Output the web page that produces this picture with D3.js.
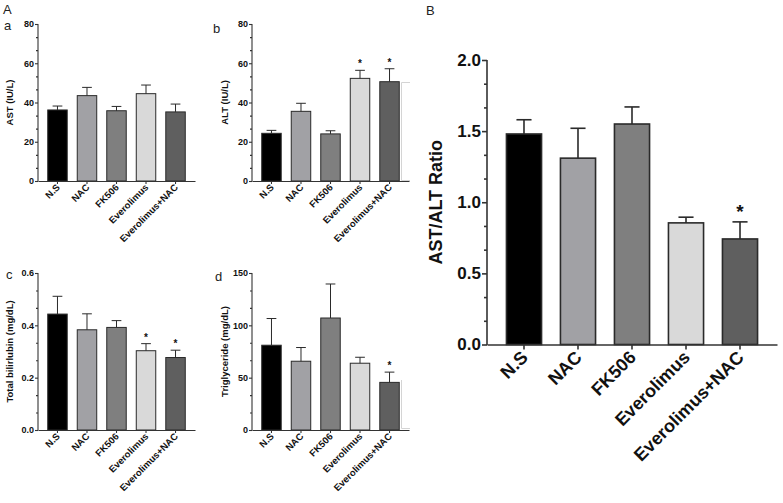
<!DOCTYPE html>
<html>
<head>
<meta charset="utf-8">
<script src="https://cdn.jsdelivr.net/npm/d3@7"></script>
<style>
  html, body { margin: 0; padding: 0; background: #fff; }
  svg { display: block; font-family: "Liberation Sans", Arial, Helvetica, sans-serif; }
</style>
</head>
<body>
<svg id="chart" width="783" height="503"></svg>
<script>
// ---------- data ----------
const categories = ["N.S", "NAC", "FK506", "Everolimus", "Everolimus+NAC"];
const barColors = ["#000000", "#a1a1a5", "#7f7f7f", "#d9d9d9", "#5f5f5f"];

const astMean = [36.2, 43.5, 35.8, 44.5, 35.2];
const astSem  = [2.0, 4.2, 2.2, 4.4, 4.0];
const astSig  = [0, 0, 0, 0, 0];
const astTicks = [0, 20, 40, 60, 80];

const altMean = [24.3, 35.5, 24.0, 52.3, 50.6];
const altSem  = [1.5, 4.1, 1.6, 4.1, 6.6];
const altSig  = [0, 0, 0, 1, 1];
const altTicks = [0, 20, 40, 60, 80];

const bilMean = [0.443, 0.383, 0.392, 0.303, 0.277];
const bilSem  = [0.068, 0.061, 0.026, 0.027, 0.028];
const bilSig  = [0, 0, 0, 1, 1];
const bilTicks = [0.0, 0.2, 0.4, 0.6];

const triMean = [81, 65.7, 107, 63.8, 45.5];
const triSem  = [25.5, 13.1, 32.5, 5.7, 9.8];
const triSig  = [0, 0, 0, 0, 1];
const triTicks = [0, 50, 100, 150];

const ratioMean = [1.48, 1.31, 1.55, 0.855, 0.742];
const ratioSem  = [0.10, 0.21, 0.12, 0.04, 0.12];
const ratioSig  = [0, 0, 0, 0, 1];
const ratioTicks = [0.0, 0.5, 1.0, 1.5, 2.0];

// ---------- drawing ----------
const svg = d3.select("#chart");

function drawPanel(cfg) {
  const g = svg.append("g");
  const x = d3.scaleBand().domain(categories)
    .range([cfg.x0, cfg.x1]).paddingInner(cfg.padIn).paddingOuter(cfg.padOut);
  const ticks = cfg.ticks;
  const y = d3.scaleLinear().domain([ticks[0], ticks[ticks.length - 1]]).range([cfg.y0, cfg.y1]);

  // minor ticks (two per major interval)
  const minor = [];
  for (let i = 0; i < ticks.length - 1; i++) {
    const st = (ticks[i + 1] - ticks[i]) / 3;
    minor.push(ticks[i] + st, ticks[i] + 2 * st);
  }
  const gm = g.append("g").attr("transform", `translate(${cfg.x0},0)`)
    .call(d3.axisLeft(y).tickValues(minor).tickSize(cfg.minorTick).tickFormat(""));
  gm.select(".domain").remove();
  gm.selectAll("line").attr("stroke", "#333").attr("stroke-width", cfg.axisW);

  // bars
  const data = categories.map((c, i) => ({ c, m: cfg.mean[i], s: cfg.sem[i], sig: cfg.sig[i], col: barColors[i] }));
  g.selectAll("rect.bar").data(data).join("rect")
    .attr("class", "bar")
    .attr("x", d => x(d.c))
    .attr("width", x.bandwidth())
    .attr("y", d => y(d.m))
    .attr("height", d => y(ticks[0]) - y(d.m))
    .attr("fill", d => d.col)
    .attr("stroke", "#2a2a2a")
    .attr("stroke-width", cfg.barW);

  // error bars (upper only)
  const capW = x.bandwidth() * cfg.capFrac;
  g.selectAll("line.err").data(data).join("line")
    .attr("x1", d => x(d.c) + x.bandwidth() / 2)
    .attr("x2", d => x(d.c) + x.bandwidth() / 2)
    .attr("y1", d => y(d.m))
    .attr("y2", d => y(d.m + d.s))
    .attr("stroke", "#2a2a2a").attr("stroke-width", cfg.barW);
  g.selectAll("line.cap").data(data).join("line")
    .attr("x1", d => x(d.c) + x.bandwidth() / 2 - capW / 2)
    .attr("x2", d => x(d.c) + x.bandwidth() / 2 + capW / 2)
    .attr("y1", d => y(d.m + d.s))
    .attr("y2", d => y(d.m + d.s))
    .attr("stroke", "#2a2a2a").attr("stroke-width", cfg.barW);

  // significance stars
  g.selectAll("text.star").data(data.filter(d => d.sig)).join("text")
    .attr("x", d => x(d.c) + x.bandwidth() / 2)
    .attr("y", d => y(d.m + d.s) - cfg.starGap)
    .attr("text-anchor", "middle")
    .attr("font-size", cfg.starSize)
    .attr("font-weight", "bold")
    .attr("fill", "#111")
    .text("*");

  // y axis
  const gy = g.append("g").attr("transform", `translate(${cfg.x0},0)`)
    .call(d3.axisLeft(y).tickValues(ticks).tickSize(cfg.majorTick).tickPadding(1).tickFormat(d3.format(cfg.fmt)));
  gy.select(".domain").attr("stroke", "#333").attr("stroke-width", cfg.axisW)
    .attr("d", `M0,${cfg.y0 + 0.5}V${cfg.y1}`);
  gy.selectAll("line").attr("stroke", "#333").attr("stroke-width", cfg.axisW);
  gy.selectAll("text").attr("font-size", cfg.tickFont).attr("font-weight", "bold")
    .attr("fill", "#111").attr("font-family", "Liberation Sans, Arial, sans-serif");

  // x axis
  const gx = g.append("g").attr("transform", `translate(0,${cfg.y0})`)
    .call(d3.axisBottom(x).tickSize(cfg.xTick).tickSizeOuter(0).tickFormat(""));
  gx.select(".domain").attr("stroke", "#333").attr("stroke-width", cfg.axisW);
  gx.selectAll("line").attr("stroke", "#333").attr("stroke-width", cfg.axisW);

  // rotated x labels
  g.selectAll("text.xl").data(categories).join("text")
    .attr("transform", d => `translate(${x(d) + x.bandwidth() / 2 + cfg.xlDx},${cfg.y0 + cfg.xlDy}) rotate(-45)`)
    .attr("text-anchor", "end")
    .attr("font-size", cfg.xFont)
    .attr("font-weight", "bold")
    .attr("fill", "#111")
    .text(d => d);

  // y title
  g.append("text")
    .attr("transform", `translate(${cfg.titleX},${(cfg.y0 + cfg.y1) / 2}) rotate(-90)`)
    .attr("text-anchor", "middle")
    .attr("font-size", cfg.titleFont)
    .attr("font-weight", "bold")
    .attr("fill", "#111")
    .text(cfg.title);
}

const small = {
  padIn: 0.34, padOut: 0.33, axisW: 1.1, barW: 1, capFrac: 0.5,
  starGap: 3, starSize: 10, majorTick: 3, minorTick: 2, xTick: 3,
  tickFont: 9, xFont: 9.5, titleFont: 9.5, xlDx: 3, xlDy: 7
};

drawPanel(Object.assign({}, small, {
  x0: 38, x1: 195, y0: 181, y1: 24, ticks: astTicks, mean: astMean, sem: astSem, sig: astSig,
  fmt: "d", title: "AST (IU/L)", titleX: 13
}));
drawPanel(Object.assign({}, small, {
  x0: 252, x1: 409, y0: 181, y1: 24, ticks: altTicks, mean: altMean, sem: altSem, sig: altSig,
  fmt: "d", title: "ALT (IU/L)", titleX: 228
}));
drawPanel(Object.assign({}, small, {
  x0: 38, x1: 195, y0: 430, y1: 273, ticks: bilTicks, mean: bilMean, sem: bilSem, sig: bilSig,
  fmt: ".1f", title: "Total bilirlubin (mg/dL)", titleX: 13
}));
drawPanel(Object.assign({}, small, {
  x0: 252, x1: 409, y0: 430, y1: 273, ticks: triTicks, mean: triMean, sem: triSem, sig: triSig,
  fmt: "d", title: "Triglyceride (mg/dL)", titleX: 228
}));
drawPanel({
  x0: 487, x1: 777, y0: 344.5, y1: 60, ticks: ratioTicks, mean: ratioMean, sem: ratioSem, sig: ratioSig,
  fmt: ".1f", title: "AST/ALT Ratio", titleX: 442,
  padIn: 0.35, padOut: 0.36, axisW: 1.6, barW: 1.6, capFrac: 0.43,
  starGap: 4, starSize: 19, majorTick: 5, minorTick: 3, xTick: 5,
  tickFont: 17, xFont: 18, titleFont: 18, xlDx: 5, xlDy: 14
});

// panel letters
const letters = [
  { t: "A", x: 3, y: 14 }, { t: "a", x: 4, y: 30 }, { t: "b", x: 213, y: 33 },
  { t: "c", x: 6, y: 279 }, { t: "d", x: 215, y: 281 }, { t: "B", x: 426, y: 15 }
];
svg.selectAll("text.letter").data(letters).join("text")
  .attr("class", "letter")
  .attr("x", d => d.x).attr("y", d => d.y)
  .attr("font-size", 13).attr("fill", "#222")
  .text(d => d.t);

// faint separator brackets
svg.append("path").attr("d", "M410,82.5H401.5V180.5H410 M401.5,380V428.5H410")
  .attr("fill", "none").attr("stroke", "#d4d4d4").attr("stroke-width", 1);
</script>
</body>
</html>
